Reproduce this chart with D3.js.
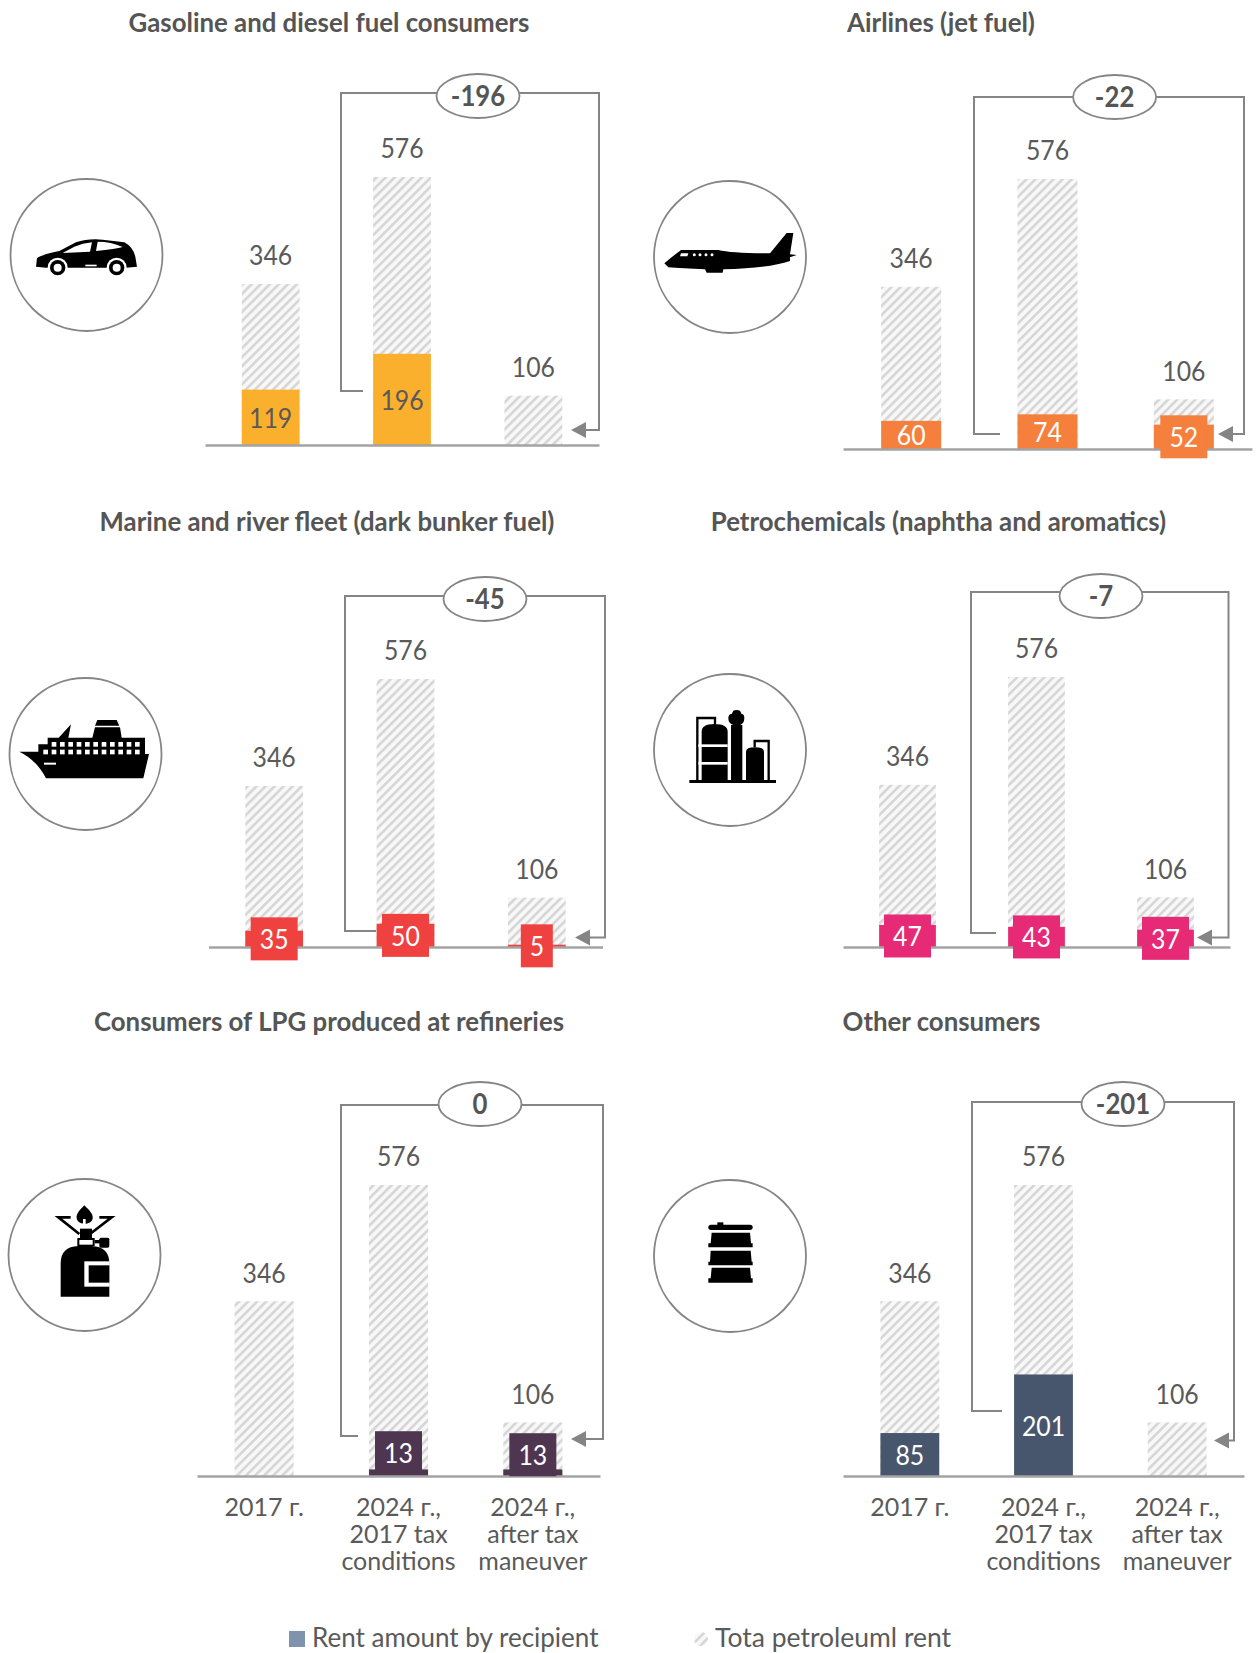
<!DOCTYPE html>
<html><head><meta charset="utf-8">
<style>html,body{margin:0;padding:0;background:#fff}svg{display:block}text{font-family:Lato,"Noto Sans",sans-serif}</style>
<script src="https://cdn.jsdelivr.net/npm/d3@7"></script></head><body>
<script>
// ---- data ----
const categories = ["2017 г.", "2024 г.,|2017 tax|conditions", "2024 г.,|after tax|maneuver"];
const totalRent = [346, 576, 106];
const titles = ["Gasoline and diesel fuel consumers", "Airlines (jet fuel)", "Marine and river fleet (dark bunker fuel)",
  "Petrochemicals (naphtha and aromatics)", "Consumers of LPG produced at refineries", "Other consumers"];
const gasolineRent = [119, 196, 0];
const airlinesRent = [60, 74, 52];
const marineRent = [35, 50, 5];
const petrochemRent = [47, 43, 37];
const lpgRent = [0, 13, 13];
const otherRent = [85, 201, 0];
const recipientRent = [gasolineRent, airlinesRent, marineRent, petrochemRent, lpgRent, otherRent];
const deltas = ["-196", "-22", "-45", "-7", "0", "-201"];
const colors = ["#fbb02d", "#f57f3c", "#ef4240", "#e62a75", "#4f3650", "#47566c"];
const legendLabels = ["Rent amount by recipient", "Tota petroleuml rent"];

// ---- layout ----
const layout = [
 {ax:[205,599],base:445,top:177,tx:329,ty:21.5,c:[86.5,255],icon:"car",ic:[26,225],br:{l:341,t:93,r:599,ly:391,lx:363,ay:430,tip:571},el:[478,96],ink:"#595959",box:[0,0,0],lift:[0,0,0]},
 {ax:[843,1252],base:449,top:179,tx:941,ty:21.5,c:[730,257],icon:"plane",ic:[655,225],br:{l:974,t:97,r:1244,ly:434,lx:1000,ay:434,tip:1218},el:[1114.6,97],ink:"#fff",box:[0,0,1],lift:[0,0,0]},
 {ax:[208.5,602.5],base:947,top:679,tx:327,ty:520.5,c:[85.5,754],icon:"ship",ic:[10,710],br:{l:345,t:596,r:605,ly:931,lx:376,ay:937.5,tip:575},el:[485,599],ink:"#fff",box:[1,1,1],lift:[0,0,0]},
 {ax:[843,1230],base:947,top:677,tx:938.5,ty:520.5,c:[730,750],icon:"plant",ic:[680,700],br:{l:971,t:592,r:1228.5,ly:933,lx:996,ay:937.5,tip:1197},el:[1101,596],ink:"#fff",box:[1,1,1],lift:[0,0,0]},
 {ax:[197,600],base:1476,top:1185,tx:329,ty:1020.5,c:[84.5,1255],icon:"stove",ic:[40,1200],br:{l:341,t:1105,r:603,ly:1436,lx:358,ay:1439,tip:571},el:[480,1104],ink:"#fff",box:[0,1,1],lift:[0,20,18]},
 {ax:[843,1244],base:1476,top:1185,tx:941.5,ty:1020.5,c:[730,1256],icon:"barrel",ic:[690,1210],br:{l:972,t:1102,r:1234,ly:1411,lx:1002,ay:1440.5,tip:1214},el:[1123,1104],ink:"#fff",box:[0,0,0],lift:[0,0,0]}
];
const TXT = "#5a5a5a", LINE = "#858585";

const svg = d3.select("body").append("svg").attr("width",1257).attr("height",1653);
const defs = svg.append("defs");
const hatch = defs.append("pattern").attr("id","hatch").attr("patternUnits","userSpaceOnUse")
  .attr("width",6.4).attr("height",6.4).attr("patternTransform","rotate(45)");
hatch.append("rect").attr("width",6.4).attr("height",6.4).attr("fill","#f8f8f8");
hatch.append("rect").attr("width",2.6).attr("height",6.4).attr("fill","#d6d6d6");

// narrow, tall number labels (the source face is narrower than Lato)
function valueText(g,xp,yp,txt,fill,size,weight){
  return g.append("text").attr("transform",`translate(${xp},${yp}) scale(0.92,1)`)
    .attr("text-anchor","middle").attr("dominant-baseline","central")
    .attr("font-size",size).attr("font-weight",weight||400).attr("fill",fill).text(txt);
}

// ---- icons (drawn in 3x crop coordinates) ----
const iconDraw = {
 car(g){
  g.append("path").attr("d","M30,125 L33,100 Q42,90 100,78 L150,52 Q185,40 230,44 L295,52 Q320,65 328,95 L333,125 L300,128 L60,128 Z");
  [95,272].forEach(x=>{g.append("circle").attr("cx",x).attr("cy",128).attr("r",30).attr("fill","#fff");
    g.append("circle").attr("cx",x).attr("cy",128).attr("r",23);g.append("circle").attr("cx",x).attr("cy",128).attr("r",12).attr("fill","#fff");});
  g.append("path").attr("fill","#fff").attr("d","M110,84 L145,65 Q170,54 198,52 L192,80 Z M210,78 L215,50 Q255,50 290,66 Q270,72 210,78 Z");
  g.append("rect").attr("x",178).attr("y",119).attr("width",34).attr("height",5).attr("fill","#fff");
 },
 plane(g){
  g.append("path").attr("d","M28,115 Q45,100 78,75 L190,75 Q230,85 345,85 L395,24 L415,24 L405,88 L425,90 L405,97 L405,108 Q340,130 205,133 L203,143 L155,143 L150,133 Q80,130 40,127 Z");
  g.append("path").attr("fill","#fff").attr("d","M78,85 L100,85 L97,94 L75,94 Z");
  [118,135,153,171].forEach(x=>g.append("circle").attr("cx",x).attr("cy",89).attr("r",4.5).attr("fill","#fff"));
 },
 ship(g){
  g.append("path").attr("d","M28,125 L85,125 L85,103 L113,103 L113,83 L146,83 L183,43 L175,83 L247,83 L255,52 L330,52 L335,83 L405,83 L405,132 L417,132 L400,205 L108,205 Q80,150 28,125 Z M255,47 L262,30 L320,30 L328,47 Z");
  d3.range(11).forEach(i=>g.append("rect").attr("x",125+25*i).attr("y",96).attr("width",14).attr("height",14).attr("fill","#fff"));
  d3.range(12).forEach(i=>g.append("rect").attr("x",100+25*i).attr("y",119).attr("width",14).attr("height",14).attr("fill","#fff"));
  g.append("rect").attr("x",102).attr("y",158).attr("width",36).attr("height",6).attr("fill","#fff");
 },
 plant(g){
  g.append("rect").attr("x",28).attr("y",240).attr("width",260).attr("height",9);
  g.append("path").attr("d","M65,240 L65,95 Q65,72 103,72 Q143,72 143,95 L143,240 Z M153,240 L153,75 L160,75 Q145,70 145,55 Q145,42 155,42 L160,32 Q170,28 180,32 L185,42 Q193,42 193,55 Q193,70 180,75 L187,75 L187,240 Z M198,240 L198,155 Q198,142 225,142 Q252,142 252,155 L252,240 Z");
  g.append("path").attr("fill","none").attr("stroke","#000").attr("stroke-width",7).attr("d","M52,240 L52,54 L105,54 L105,72 M224,142 L224,123 L266,123 L266,240");
  [133,186].forEach(y=>g.append("rect").attr("x",55).attr("y",y).attr("width",88).attr("height",8).attr("fill","#fff"));
 },
 stove(g){
  g.append("path").attr("d","M62,290 L62,190 Q62,140 115,138 L155,138 Q208,140 208,190 L208,290 Z");
  g.append("rect").attr("x",133).attr("y",184).attr("width",76).attr("height",76).attr("fill","#fff");
  g.append("rect").attr("x",146).attr("y",196).attr("width",62).attr("height",52);
  g.append("rect").attr("x",112).attr("y",114).attr("width",52).attr("height",24);
  g.append("rect").attr("x",118).attr("y",120).attr("width",40).attr("height",14).attr("fill","#fff");
  g.append("rect").attr("x",120).attr("y",86).attr("width",36).attr("height",30);
  g.append("path").attr("d","M133,16 C120,30 108,40 110,55 C112,68 128,72 133,72 C140,72 157,68 158,55 C160,40 146,30 133,16 Z");
  g.append("rect").attr("x",129).attr("y",57).attr("width",8).attr("height",20).attr("fill","#fff");
  g.append("path").attr("fill","none").attr("stroke","#000").attr("stroke-width",8).attr("d","M118,102 L55,52 L92,52 M150,102 L215,52 L178,52");
  g.append("rect").attr("x",164).attr("y",120).attr("width",16).attr("height",10);
  g.append("rect").attr("x",178).attr("y",113).attr("width",30).attr("height",30).attr("rx",5);
 },
 barrel(g){
  g.append("rect").attr("x",55).attr("y",44).attr("width",133).attr("height",16).attr("rx",8);
  g.append("rect").attr("x",82).attr("y",37).attr("width",18).attr("height",10);
  g.append("path").attr("d","M65,68 L180,68 L183,100 L188,100 L188,112 L55,112 L55,100 L62,100 Z M62,122 L182,122 L185,155 L188,155 L188,166 L55,166 L55,155 L60,155 Z M65,173 L180,173 L183,205 L188,205 L188,218 L55,218 L55,205 L62,205 Z");
 }
};

// ---- panels ----
titles.forEach((title,p)=>{
  const L = layout[p], vals = recipientRent[p], color = colors[p];
  const g = svg.append("g");
  const x = d3.scaleBand().domain(categories).range(L.ax).paddingInner(0.56).paddingOuter(0.28);
  const y = d3.scaleLinear().domain([0,d3.max(totalRent)]).range([L.base,L.top]);

  g.append("text").attr("x",L.tx).attr("y",L.ty).attr("text-anchor","middle").attr("dominant-baseline","central")
    .attr("font-size",25.8).attr("font-weight",700).attr("fill","#555").text(title);

  g.append("circle").attr("cx",L.c[0]).attr("cy",L.c[1]).attr("r",76).attr("fill","#fff").attr("stroke",LINE).attr("stroke-width",1.8);
  const ig = g.append("g").attr("fill","#000").attr("transform",`translate(${L.ic[0]},${L.ic[1]}) scale(${1/3})`);
  iconDraw[L.icon](ig);

  // total rent bars
  g.selectAll(".total").data(totalRent).join("rect").attr("class","total")
    .attr("x",(d,i)=>x(categories[i])).attr("width",x.bandwidth())
    .attr("y",d=>y(d)).attr("height",d=>y(0)-y(d)).attr("fill","url(#hatch)");
  totalRent.forEach((d,i)=>valueText(g,x(categories[i])+x.bandwidth()/2,y(d)-29,d,TXT,27));

  // recipient bars
  g.selectAll(".rent").data(vals).join("rect").attr("class","rent")
    .attr("x",(d,i)=>x(categories[i])).attr("width",x.bandwidth())
    .attr("y",d=>y(d)).attr("height",d=>y(0)-y(d)).attr("fill",color);

  // axis
  const axis = d3.axisBottom(x).tickSize(0).tickFormat("");
  const ag = g.append("g").attr("transform",`translate(0,${L.base})`).call(axis);
  ag.select(".domain").attr("stroke","#a3a3a3").attr("stroke-width",2.5);
  if(p>=4){
    ag.selectAll(".tick text").remove();
    ag.selectAll(".tick").each(function(c){
      const t = d3.select(this).append("text").attr("text-anchor","middle").attr("fill",TXT).attr("font-size",25);
      c.split("|").forEach((s,i)=>t.append("tspan").attr("x",0).attr("y",40+i*27).text(s));
    });
  }

  // value label boxes & labels
  vals.forEach((v,i)=>{
    if(!v) return;
    const cx = x(categories[i])+x.bandwidth()/2, cy = y(v/2)-L.lift[i];
    if(L.box[i]){
      const w = String(v).length>1 ? 47 : 32;
      g.append("rect").attr("x",cx-w/2).attr("y",cy-21.5).attr("width",w).attr("height",43).attr("fill",color);
    }
    valueText(g,cx,cy,v,L.ink,27);
  });

  // bracket
  const b = L.br;
  g.append("path").attr("fill","none").attr("stroke",LINE).attr("stroke-width",2)
    .attr("d",d3.line()([[b.lx,b.ly],[b.l,b.ly],[b.l,b.t],[b.r,b.t],[b.r,b.ay],[b.tip+12,b.ay]]));
  g.append("path").attr("fill",LINE).attr("d",d3.line()([[b.tip,b.ay],[b.tip+15,b.ay-8],[b.tip+15,b.ay+8]])+"Z");
  g.append("ellipse").attr("cx",L.el[0]).attr("cy",L.el[1]).attr("rx",41.5).attr("ry",22).attr("fill","#fff").attr("stroke",LINE).attr("stroke-width",1.8);
  valueText(g,L.el[0],L.el[1]-0.5,deltas[p],"#555",28,700);
});

// ---- legend ----
const lg = svg.append("g");
lg.append("rect").attr("x",289).attr("y",1631).attr("width",16).attr("height",16).attr("fill","#8093ad");
lg.append("text").attr("x",312).attr("y",1636.5).attr("dominant-baseline","central").attr("font-size",26).attr("fill",TXT).text(legendLabels[0]);
lg.append("circle").attr("cx",701).attr("cy",1639).attr("r",7).attr("fill","url(#hatch)");
lg.append("text").attr("x",715).attr("y",1636.5).attr("dominant-baseline","central").attr("font-size",26.5).attr("fill",TXT).text(legendLabels[1]);
</script></body></html>
